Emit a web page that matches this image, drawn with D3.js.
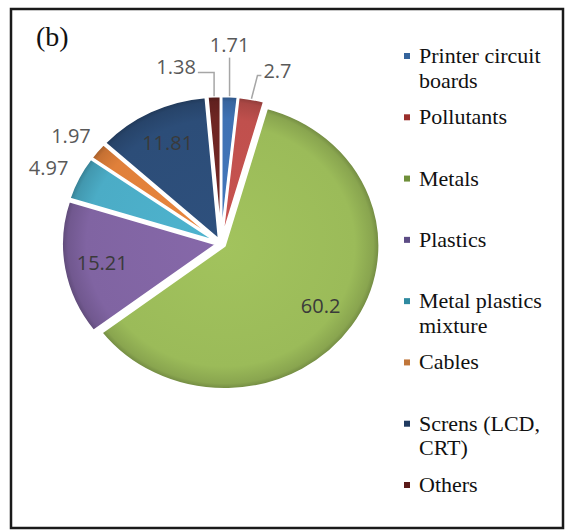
<!DOCTYPE html>
<html>
<head>
<meta charset="utf-8">
<script src="https://cdn.jsdelivr.net/npm/d3@7"></script>
<style>
  body { margin: 0; background: #fff; }
  svg { display: block; }
</style>
</head>
<body>
<div id="chart"></div>
<script>
// chart data
const categories = ["Printer circuit boards", "Pollutants", "Metals", "Plastics",
    "Metal plastics mixture", "Cables", "Screns (LCD, CRT)", "Others"];
const values = [1.71, 2.7, 60.2, 15.21, 4.97, 1.97, 11.81, 1.38];
const legendLines = [["Printer circuit", "boards"], ["Pollutants"], ["Metals"], ["Plastics"],
    ["Metal plastics", "mixture"], ["Cables"], ["Screns (LCD,", "CRT)"], ["Others"]];
const panelLabel = "(b)";

// colours (slice body / legend marker)
const sliceColors = ["#3f72b4", "#c0504d", "#9bbb59", "#8064a2", "#4bacc6", "#e0803a", "#2c4d78", "#6e2523"];
const legendColors = ["#35649c", "#9a2e2b", "#6f8f3a", "#5c4c85", "#2f8aa0", "#c0763a", "#1f3a5f", "#5a1a18"];

// how each value label sits (layout only)
const labelMode = ["leader", "leader", "inside", "inside", "outside", "outside", "inside", "leader"];
const leaderShift = {"Others": -38, "Printer circuit boards": 0, "Pollutants": 26};

const W = 566, H = 531;
const cx = 221, cy = 243.5, ry = 143.5, rx = 155, explode = 4;
const sx = rx / ry;

const serif = "'Liberation Serif', 'Times New Roman', serif";
const labelFont = "'Open Sans', Calibri, sans-serif";

const svg = d3.select("#chart").append("svg")
    .attr("width", W)
    .attr("height", H);

// outer frame
svg.append("rect")
    .attr("x", 11).attr("y", 9)
    .attr("width", 552).attr("height", 519)
    .attr("fill", "none")
    .attr("stroke", "#1a1a1a")
    .attr("stroke-width", 2.5);

svg.append("text")
    .attr("x", 36).attr("y", 46)
    .style("font-family", serif)
    .attr("font-size", 28)
    .attr("fill", "#111")
    .text(panelLabel);

const pie = d3.pie().sort(null).value(d => d)(values);
const arc = d3.arc().innerRadius(0).outerRadius(ry);

const defs = svg.append("defs");
pie.forEach((p, i) => {
    let c = d3.color(sliceColors[i]);
    let g = defs.append("radialGradient")
        .attr("id", "grad" + i)
        .attr("gradientUnits", "userSpaceOnUse")
        .attr("cx", 0).attr("cy", 0).attr("r", ry);
    g.append("stop").attr("offset", "0%").attr("stop-color", c.brighter(0.12));
    g.append("stop").attr("offset", "84%").attr("stop-color", c);
    g.append("stop").attr("offset", "96%").attr("stop-color", c.darker(0.35));
    g.append("stop").attr("offset", "100%").attr("stop-color", c.darker(0.9));
});

const midAngle = d => (d.startAngle + d.endAngle) / 2;

// point on the (stretched) pie at angle a and radius fraction k, including explosion
function piePoint(a, k) {
    let r = ry * k + explode;
    return [cx + sx * r * Math.sin(a), cy - r * Math.cos(a)];
}

const slices = svg.append("g")
    .attr("transform", `translate(${cx},${cy}) scale(${sx},1)`);

slices.selectAll("g.slice")
    .data(pie)
    .enter().append("g")
    .attr("class", "slice")
    .attr("transform", d => `translate(${explode * Math.sin(midAngle(d))},${-explode * Math.cos(midAngle(d))})`)
    .append("path")
    .attr("d", arc)
    .attr("fill", (d, i) => `url(#grad${i})`)
    .attr("stroke", "#fff")
    .attr("stroke-width", 2.5)
    .attr("vector-effect", "non-scaling-stroke")
    .attr("stroke-linejoin", "round");

// value labels
const labels = svg.append("g");

pie.forEach((d, i) => {
    let a = midAngle(d);
    let mode = labelMode[i];
    let txt = String(values[i]);
    if (mode === "inside") {
        let p = piePoint(a, 0.75);
        labels.append("text")
            .attr("x", p[0]).attr("y", p[1])
            .attr("dy", "0.35em")
            .attr("text-anchor", "middle")
            .style("font-family", labelFont)
            .attr("font-size", 20)
            .attr("fill", "#3a3a3a")
            .text(txt);
    } else if (mode === "outside") {
        let p = piePoint(a, 1.2);
        labels.append("text")
            .attr("x", p[0] - 2).attr("y", p[1] + 3)
            .attr("dy", "0.35em")
            .attr("text-anchor", "middle")
            .style("font-family", labelFont)
            .attr("font-size", 20)
            .attr("fill", "#595959")
            .text(txt);
    } else {
        let anchor = piePoint(a, 1);
        let shift = leaderShift[categories[i]];
        let k = shift === 0 ? 1.36 : 1.2;
        let base = piePoint(a, k);
        let tx = anchor[0] + shift;
        let ty = base[1];
        let t = labels.append("text")
            .attr("x", tx).attr("y", ty)
            .attr("dy", "0.35em")
            .attr("text-anchor", "middle")
            .style("font-family", labelFont)
            .attr("font-size", 20)
            .attr("fill", "#595959")
            .text(txt);
        let bb = t.node().getBBox();
        let pts;
        if (shift === 0) {
            pts = [anchor, [anchor[0], ty + 13]];
        } else if (shift < 0) {
            pts = [anchor, [anchor[0], ty + 5], [bb.x + bb.width + 2, ty + 5]];
        } else {
            pts = [anchor, [anchor[0] + 6, ty + 5], [bb.x - 2, ty + 5]];
        }
        labels.append("path")
            .attr("d", d3.line()(pts))
            .attr("fill", "none")
            .attr("stroke", "#a6a6a6")
            .attr("stroke-width", 1.5);
    }
});

// legend
const legendY = d3.scalePoint().domain(categories).range([56, 485]);
const legend = svg.append("g");

categories.forEach((c, i) => {
    let y = legendY(c);
    legend.append("rect")
        .attr("x", 404).attr("y", y - 3)
        .attr("width", 6).attr("height", 6)
        .attr("fill", legendColors[i]);
    let t = legend.append("text")
        .attr("x", 419).attr("y", y + 7)
        .style("font-family", serif)
        .attr("font-size", 22)
        .attr("fill", "#111");
    legendLines[i].forEach((line, j) => {
        t.append("tspan")
            .attr("x", 419)
            .attr("dy", j === 0 ? 0 : 24.5)
            .text(line);
    });
});
</script>
</body>
</html>
